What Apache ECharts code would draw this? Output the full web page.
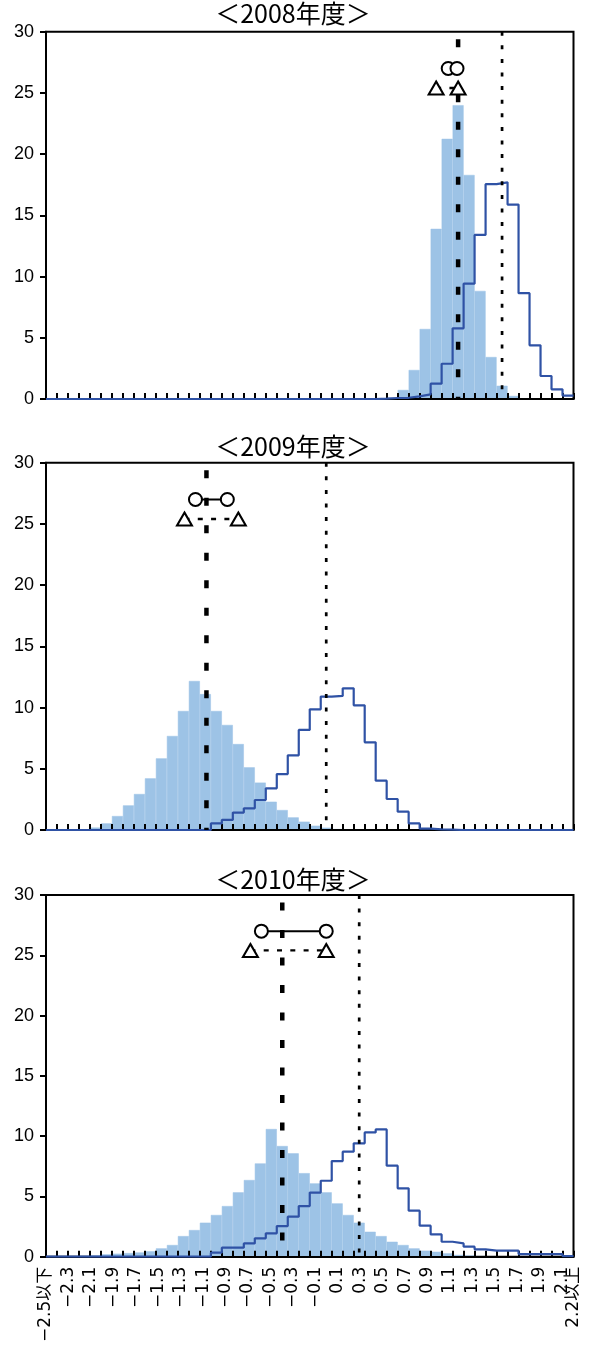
<!DOCTYPE html>
<html><head><meta charset="utf-8">
<script src="https://cdn.jsdelivr.net/npm/echarts@6/dist/echarts.min.js"></script>
<style>html,body{margin:0;padding:0;background:#fff}#c{width:595px;height:1356px}</style>
</head><body><div id="c"></div>
<script>
// x categories (bin labels)
const categories = ['−2.5以下','−2.4','−2.3','−2.2','−2.1','−2.0','−1.9','−1.8','−1.7','−1.6',
  '−1.5','−1.4','−1.3','−1.2','−1.1','−1.0','−0.9','−0.8','−0.7','−0.6',
  '−0.5','−0.4','−0.3','−0.2','−0.1','0.0','0.1','0.2','0.3','0.4',
  '0.5','0.6','0.7','0.8','0.9','1.0','1.1','1.2','1.3','1.4',
  '1.5','1.6','1.7','1.8','1.9','2.0','2.1','2.2以上'];
const binCenterStart = -2.5, binWidth = 0.1;
const titles = ['＜2008年度＞','＜2009年度＞','＜2010年度＞'];

// filled histogram values
const bars2008 = [0,0,0,0,0,0,0,0,0,0, 0,0,0,0,0,0,0,0,0,0, 0,0,0,0,0,0,0,0,0,0,
  0,0.1,0.74,2.37,5.72,13.9,21.25,24.0,18.3,8.83, 3.43,1.08,0.25,0.05,0,0,0,0];
const bars2009 = [0,0,0,0.05,0.2,0.54,1.14,2.01,2.94,4.22, 5.85,7.68,9.72,12.17,11.1,9.72,8.58,7.02,5.12,3.87,
  2.31,1.63,1.03,0.68,0.35,0.19,0.08,0.03,0,0, 0,0,0,0,0,0,0,0,0,0, 0,0,0,0,0,0,0,0];
const bars2010 = [0,0,0,0.05,0.1,0.2,0.25,0.3,0.35,0.45, 0.69,0.97,1.71,2.21,2.82,3.46,4.2,5.34,6.36,7.74,
  10.59,9.18,8.57,6.93,6.08,5.34,4.42,3.46,2.82,2.07, 1.71,1.24,0.97,0.69,0.5,0.41,0.28,0.15,0.1,0.05,
  0,0,0,0,0,0,0,0];

// outline (step) histogram values
const line2008 = [0,0,0,0,0,0,0,0,0,0, 0,0,0,0,0,0,0,0,0,0, 0,0,0,0,0,0,0,0,0,0,
  0.03,0.08,0.1,0.22,0.38,1.25,2.88,5.77,9.42,13.4, 17.55,17.7,15.88,8.64,4.38,1.88,0.79,0.28];
const line2009 = [0,0,0,0,0,0,0,0,0,0, 0,0,0,0,0,0.54,0.82,1.42,1.77,2.45,
  3.4,4.57,6.1,8.17,9.86,10.9,10.95,11.57,10.18,7.16, 4.03,2.53,1.5,0.54,0.12,0.05,0.03,0,0,0,
  0,0,0,0,0,0,0,0];
const line2010 = [0,0,0,0,0,0,0,0,0,0, 0,0,0,0,0,0.33,0.75,0.75,1.1,1.52,
  1.94,2.54,3.32,4.2,5.32,6.3,7.93,8.71,9.4,10.31, 10.56,7.55,5.67,3.82,2.57,1.85,1.24,1.1,0.83,0.61,
  0.5,0.5,0.5,0.22,0.22,0.22,0.22,0.05];

// reference lines and markers (x in value units)
const dashedX = [1.2, -1.09, -0.4];
const dottedX = [1.6, 0.0, 0.3];
const circleXs = [[1.11, 1.19], [-1.19, -0.9], [-0.59, 0.0]];
const triangleXs = [[1.0, 1.2], [-1.29, -0.8], [-0.69, 0.0]];
const circleY = 27, triangleY = 25.4;
const yMin = 0, yMax = 30, yStep = 5;

const barsAll = [bars2008, bars2009, bars2010];
const linesAll = [line2008, line2009, line2010];

// layout
const layout = [
  {top: 31.7, height: 367.3, titleY: 13},
  {top: 462.7, height: 367.3, titleY: 446},
  {top: 895, height: 361.7, titleY: 879}
];
const gridLeft = 46, gridRight = 21.5;
const barColor = '#9DC3E6', lineColor = '#2F52A5';
const lastIdx = categories.length - 1;

const grids = [], xAxes = [], yAxes = [], series = [], graphics = [];
layout.forEach((L, p) => {
  grids.push({left: gridLeft, right: gridRight, top: L.top, height: L.height, show: true,
    borderColor: '#000', borderWidth: 2, backgroundColor: 'transparent', outerBoundsMode: 'none'});
  xAxes.push({
    type: 'category', gridIndex: p, data: categories, boundaryGap: true, z: 3, position: 'bottom',
    axisLine: {show: true, onZero: false, lineStyle: {color: '#000', width: 2}},
    axisTick: {show: true, inside: true, interval: 0, length: 6, lineStyle: {color: '#000', width: 2}},
    axisLabel: {show: false},
    splitLine: {show: false}
  });
  xAxes.push({type: 'value', gridIndex: p, position: 'top', min: binCenterStart - binWidth / 2,
    max: binCenterStart + binWidth * (categories.length - 0.5), show: false,
    axisLine: {show: false, onZero: false}, axisTick: {show: false}, axisLabel: {show: false}, splitLine: {show: false}});
  yAxes.push({
    type: 'value', gridIndex: p, min: yMin, max: yMax, interval: yStep,
    axisLine: {show: true, onZero: false, lineStyle: {color: '#000', width: 2}},
    axisTick: {show: true, length: 6, lineStyle: {color: '#000', width: 2}},
    axisLabel: {fontSize: 18, color: '#000', fontFamily: '"Liberation Sans"', margin: 12},
    splitLine: {show: false}
  });
  const xc = 2 * p, xv = 2 * p + 1;
  series.push({type: 'bar', xAxisIndex: xc, yAxisIndex: p, data: barsAll[p],
    barCategoryGap: '0%', barGap: '0%', z: 2, silent: true,
    itemStyle: {color: barColor, borderColor: barColor, borderWidth: 0.5}});
  const step = [];
  linesAll[p].forEach((v, i) => {
    const c = binCenterStart + binWidth * i;
    step.push([c - binWidth / 2, v], [c + binWidth / 2, v]);
  });
  series.push({type: 'line', xAxisIndex: xv, yAxisIndex: p, data: step, symbol: 'none', z: 5,
    lineStyle: {color: lineColor, width: 2.2}, silent: true});
  series.push({type: 'line', xAxisIndex: xv, yAxisIndex: p, data: [[dashedX[p], yMax], [dashedX[p], yMin]],
    symbol: 'none', z: 6, lineStyle: {color: '#000', width: 4.5, type: [8, 19.5], dashOffset: 20}, silent: true});
  series.push({type: 'line', xAxisIndex: xv, yAxisIndex: p, data: [[dottedX[p], yMax], [dottedX[p], yMin]],
    symbol: 'none', z: 6, lineStyle: {color: '#000', width: 2.7, type: [4, 9.6]}, silent: true});
  series.push({type: 'line', xAxisIndex: xv, yAxisIndex: p,
    data: circleXs[p].map(x => [x, circleY]), symbol: 'none', z: 7,
    lineStyle: {color: '#000', width: 2}, silent: true});
  series.push({type: 'line', xAxisIndex: xv, yAxisIndex: p,
    data: triangleXs[p].map(x => [x, triangleY]), symbol: 'none', z: 7,
    lineStyle: {color: '#000', width: 2.3, type: [5, 8.3]}, silent: true});
  series.push({type: 'scatter', xAxisIndex: xv, yAxisIndex: p,
    data: circleXs[p].map(x => [x, circleY]), symbol: 'circle', symbolSize: 13, z: 8,
    itemStyle: {color: '#fff', borderColor: '#000', borderWidth: 2, opacity: 1}, silent: true});
  series.push({type: 'scatter', xAxisIndex: xv, yAxisIndex: p,
    data: triangleXs[p].map(x => [x, triangleY]), symbol: 'triangle', symbolSize: [15, 13], z: 8,
    itemStyle: {color: '#fff', borderColor: '#000', borderWidth: 2, opacity: 1}, silent: true});
  graphics.push({type: 'text', x: 293, y: L.titleY, z: 10,
    style: {text: titles[p], font: '25px "Noto Sans CJK JP"', fill: '#000',
      textAlign: 'center', textVerticalAlign: 'middle', align: 'center', verticalAlign: 'middle'}});
});

// label axis of the bottom panel: labels spread from the left edge to the right edge
xAxes.push({
  type: 'category', gridIndex: 2, data: categories, boundaryGap: false, position: 'bottom', offset: 0,
  axisLine: {show: false, onZero: false}, axisTick: {show: false}, splitLine: {show: false},
  axisLabel: {
    show: true, interval: 0, hideOverlap: false,
    formatter: (v, i) => (i % 2 === 0 || i === lastIdx) ? v : '',
    rotate: 90, fontSize: 17, lineHeight: 10, fontFamily: '"DejaVu Sans", "Noto Sans CJK JP"',
    color: '#000', margin: 10
  }
});

const chart = echarts.init(document.getElementById('c'), null, {renderer: 'canvas'});
chart.setOption({
  animation: false,
  grid: grids, xAxis: xAxes, yAxis: yAxes, series: series, graphic: graphics
});
</script></body></html>
